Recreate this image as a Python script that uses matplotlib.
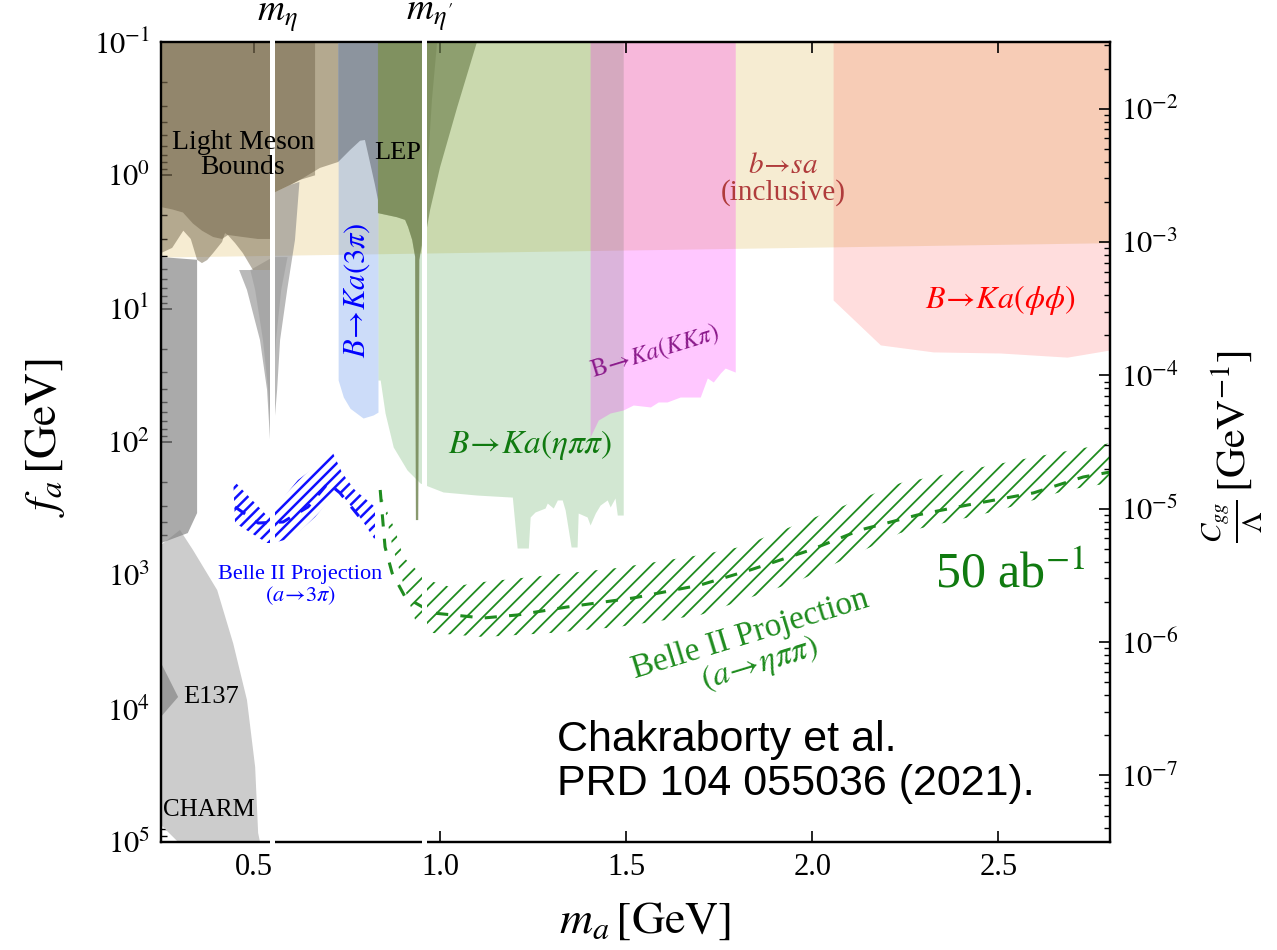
import numpy as np
import matplotlib
matplotlib.use("Agg")
import matplotlib.pyplot as plt

plt.rcParams['font.family'] = ['Liberation Serif', 'DejaVu Serif']
plt.rcParams['mathtext.fontset'] = 'stix'

# ---------------- data (m_a in GeV, f_a in GeV) ----------------
m_eta, m_etap = 0.548, 0.958

bsa_m = [0.25, 2.80]
bsa_fa = [4.1, 3.2]

etapipi_m = [0.833, 0.839, 0.852, 0.874, 0.911, 0.946, 1.008, 1.099, 1.194, 1.207, 1.237,
             1.242, 1.255, 1.282, 1.288, 1.304, 1.315, 1.328, 1.336, 1.352, 1.368, 1.371,
             1.395, 1.403, 1.417, 1.430, 1.449, 1.457, 1.470, 1.476, 1.492]
etapipi_fa = [34.3, 34.3, 60.6, 109, 162, 203, 237, 250, 259, 624, 624,
              365, 335, 313, 287, 313, 272, 272, 324, 613, 613, 341,
              365, 419, 341, 297, 272, 307, 263, 353, 353]

kkpi_m = [1.403, 1.425, 1.457, 1.492, 1.519, 1.565, 1.586, 1.610, 1.645, 1.699, 1.718,
          1.734, 1.753, 1.766, 1.793]
kkpi_fa = [91.7, 68.4, 60.6, 57.5, 52.8, 54.6, 50.1, 50.1, 46.0, 46.0, 33.1,
           35.5, 30.4, 27.9, 29.9]

phiphi_m = [2.056, 2.183, 2.325, 2.505, 2.685, 2.80]
phiphi_fa = [8.61, 18.7, 21.1, 21.5, 23.1, 20.4]

threepi_m = [0.726, 0.740, 0.758, 0.793, 0.820, 0.833]
threepi_fa = [34.3, 46.0, 55.9, 66.1, 62.7, 59.7]

strip_m = [0.25, 0.347, 0.347, 0.322, 0.25]
strip_fa = [4.1, 4.3, 341, 482, 573]

charm_m = [0.25, 0.301, 0.336, 0.401, 0.444, 0.481, 0.503, 0.511, 0.516, 0.296, 0.25]
charm_fa = [592, 457, 646, 1290, 3240, 8610, 27400, 85500, 1e5, 1e5, 74500]

e137_m = [0.25, 0.296, 0.25]
e137_fa = [4540, 8170, 11500]

cone_outer_m = [0.460, 0.481, 0.516, 0.535, 0.543, 0.548, 0.551, 0.562, 0.570, 0.589, 0.610,
                0.622, 0.597, 0.551, 0.551]
cone_outer_fa = [5.13, 7.24, 17.2, 40.7, 96.6, 249, 96.6, 40.7, 17.2, 7.24, 3.05,
                 1.12, 1.18, 1.36, 5.13]
cone_inner_m = [0.490, 0.503, 0.524, 0.538, 0.546, 0.551, 0.559, 0.573, 0.590, 0.551]
cone_inner_fa = [5.13, 7.24, 17.2, 40.7, 96.6, 40.7, 17.2, 7.24, 4.1, 4.1]

lm_outer_m = [0.25, 0.726, 0.726, 0.677, 0.624, 0.597, 0.551, 0.548, 0.497, 0.470, 0.449,
              0.430, 0.422, 0.414, 0.390, 0.374, 0.360, 0.347, 0.330, 0.310, 0.280, 0.25]
lm_outer_fa = [0.1, 0.1, 0.794, 0.88, 1.08, 1.18, 1.36, 5.13, 5.13, 3.83, 3.22,
               2.81, 2.71, 3.16, 3.83, 4.32, 4.55, 4.30, 3.0, 2.6, 3.5, 3.83]
lm_inner_m = [0.25, 0.664, 0.664, 0.624, 0.597, 0.551, 0.545, 0.51, 0.47, 0.43, 0.414,
              0.39, 0.36, 0.336, 0.309, 0.28, 0.25]
lm_inner_fa = [0.1, 0.1, 1.0, 1.08, 1.18, 1.36, 3.0, 3.0, 2.9, 2.8, 3.0,
               2.9, 2.6, 2.3, 1.9, 1.8, 1.73]

wedge_m = [0.726, 0.833, 0.833, 0.825, 0.812, 0.798, 0.785, 0.758, 0.726]
wedge_fa = [0.1, 0.1, 1.53, 1.18, 0.81, 0.543, 0.55, 0.646, 0.794]

lep_outer_m = [0.833, 1.099, 1.046, 1.000, 0.973, 0.965, 0.954, 0.944, 0.941, 0.935, 0.933,
               0.925, 0.914, 0.906, 0.884, 0.833]
lep_outer_fa = [0.1, 0.1, 0.308, 0.866, 1.82, 2.44, 3.05, 4.32, 385, 385, 4.10,
                3.05, 2.44, 2.16, 2.06, 1.92]
lep_inner_m = [0.833, 0.992, 0.978, 0.968, 0.960, 0.944, 0.941, 0.935, 0.933, 0.925, 0.914,
               0.906, 0.884, 0.833]
lep_inner_fa = [0.1, 0.1, 0.272, 0.767, 1.82, 4.32, 385, 385, 4.10, 3.05, 2.44,
                2.16, 2.06, 1.92]

b3pi_upper_m = [0.444, 0.538, 0.551, 0.618, 0.712, 0.737, 0.771, 0.825]
b3pi_upper_fa = [193, 365, 324, 193, 121, 171, 229, 307]
b3pi_lower_m = [0.449, 0.535, 0.551, 0.602, 0.664, 0.726, 0.790, 0.825]
b3pi_lower_fa = [405, 572, 572, 525, 365, 229, 385, 543]
b3pi_center_m = [0.449, 0.511, 0.578, 0.645, 0.699, 0.731, 0.790]
b3pi_center_fa = [307, 405, 398, 307, 203, 241, 385]

beta_upper_m = [0.833, 0.879, 0.901, 0.965, 1.027, 1.116, 1.296, 1.476, 1.699, 1.806,
                2.056, 2.237, 2.417, 2.594, 2.80]
beta_upper_fa = [229, 457, 729, 1084, 1223, 1122, 994, 881, 704, 613,
                 324, 203, 162, 130, 102]
beta_lower_m = [0.844, 0.871, 0.906, 0.933, 0.981, 1.116, 1.296, 1.476, 1.699, 1.968,
                2.237, 2.505, 2.685, 2.80]
beta_lower_fa = [250, 592, 1288, 2163, 2707, 2900, 2707, 2441, 1984, 1084,
                 481, 324, 229, 203]
beta_center_m = [0.839, 0.852, 0.871, 0.906, 0.981, 1.116, 1.207, 1.341, 1.519, 1.699,
                 1.833, 1.995, 2.129, 2.282, 2.417, 2.594, 2.728, 2.80]
beta_center_fa = [229, 613, 960, 1454, 1917, 2089, 1984, 1728, 1479, 1182,
                  912, 646, 457, 353, 297, 241, 183, 168]

x_ticks = [0.5, 1.0, 1.5, 2.0, 2.5]
x_ticklabels = ['0.5', '1.0', '1.5', '2.0', '2.5']
fa_ticks = [1e-1, 1e0, 1e1, 1e2, 1e3, 1e4, 1e5]
fa_ticklabels = [r'$10^{-1}$', r'$10^{0}$', r'$10^{1}$', r'$10^{2}$', r'$10^{3}$',
                 r'$10^{4}$', r'$10^{5}$']
cgg_ticks = [1e-7, 1e-6, 1e-5, 1e-4, 1e-3, 1e-2]
cgg_ticklabels = [r'$10^{-7}$', r'$10^{-6}$', r'$10^{-5}$', r'$10^{-4}$', r'$10^{-3}$',
                  r'$10^{-2}$']

# C_gg / Lambda = 1 / (32 pi^2 f_a)
cgg_factor = 1.0 / (32 * np.pi ** 2)

# ---------------- figure ----------------
W, H = 1277, 950
fig = plt.figure(figsize=(W / 100, H / 100), dpi=100)
ax = fig.add_axes([161 / W, 1 - 842 / H, (1110 - 161) / W, 800 / H])
ax.set_xlim(0.25, 2.8)
ax.set_yscale('log')
ax.set_ylim(1e5, 1e-1)

top = 0.1
# inclusive b -> s a
ax.fill_between(bsa_m, bsa_fa, top, color='#f6ecd2', lw=0, zorder=1)
# exclusive B -> K a channels
ax.fill_between(etapipi_m, etapipi_fa, top, color='#329632', alpha=0.22, lw=0, zorder=1.2)
ax.fill_between(kkpi_m, kkpi_fa, top, color='#ff00ff', alpha=0.22, lw=0, zorder=1.3)
ax.fill_between(phiphi_m, phiphi_fa, top, color='#ff1010', alpha=0.14, lw=0, zorder=1.4)
ax.fill_between(threepi_m, threepi_fa, top, color='#6495ed', alpha=0.33, lw=0, zorder=1.5)

# beam dumps and other low-mass limits
ax.fill(charm_m, charm_fa, color='#cccccc', lw=0, zorder=2.0)
ax.fill(strip_m, strip_fa, color='#808080', alpha=0.67, lw=0, zorder=2.1)
ax.fill(e137_m, e137_fa, color='#9a9a9a', lw=0, zorder=2.2)
ax.fill(cone_outer_m, cone_outer_fa, color='#808080', alpha=0.55, lw=0, zorder=2.3)
ax.fill(cone_inner_m, cone_inner_fa, color='#808080', alpha=0.3, lw=0, zorder=2.4)

# light meson bounds
ax.fill(lm_outer_m, lm_outer_fa, color='#6d6046', alpha=0.48, lw=0, zorder=2.5)
ax.fill(lm_inner_m, lm_inner_fa, color='#6d6046', alpha=0.48, lw=0, zorder=2.6)
ax.fill(wedge_m, wedge_fa, color='#8c949e', lw=0, zorder=2.7)

# LEP
ax.fill(lep_outer_m, lep_outer_fa, color='#6f824f', alpha=0.66, lw=0, zorder=2.8)
ax.fill(lep_inner_m, lep_inner_fa, color='#6f824f', alpha=0.45, lw=0, zorder=2.9)

# Belle II projections
plt.rcParams['hatch.linewidth'] = 1.8
ax.fill(np.r_[b3pi_upper_m, b3pi_lower_m[::-1]], np.r_[b3pi_upper_fa, b3pi_lower_fa[::-1]],
        facecolor='none', edgecolor='#1010ff', hatch='///', lw=0, zorder=3.0)
ax.plot(b3pi_center_m, b3pi_center_fa, color='#1010ff', lw=2.2, dashes=(4, 4), zorder=3.1)
plt.rcParams['hatch.linewidth'] = 1.3
ax.fill(np.r_[beta_upper_m, beta_lower_m[::-1]], np.r_[beta_upper_fa, beta_lower_fa[::-1]],
        facecolor='none', edgecolor='#1f8c1f', hatch='//', lw=0, zorder=3.0)
ax.plot(beta_center_m, beta_center_fa, color='#1f8c1f', lw=2.2, dashes=(4, 4), zorder=3.1)

# ---------------- axes styling ----------------
ax.set_xticks(x_ticks)
ax.set_xticklabels(x_ticklabels, fontsize=22)
ax.set_yticks(fa_ticks)
ax.set_yticklabels(fa_ticklabels, fontsize=22)
ax.tick_params(which='both', direction='in', top=True, right=False)
ax.tick_params(which='major', length=8, width=1.2, pad=8)
ax.tick_params(which='minor', length=4.5, width=1.0)
ax.minorticks_on()
ax.xaxis.set_minor_locator(matplotlib.ticker.NullLocator())
ax.yaxis.set_minor_locator(matplotlib.ticker.LogLocator(base=10, subs=np.arange(2, 10)))
ax.yaxis.set_minor_formatter(matplotlib.ticker.NullFormatter())

ax2 = ax.twinx()
ax2.set_yscale('log')
ax2.set_ylim(cgg_factor / 1e5, cgg_factor / 1e-1)
ax2.set_yticks(cgg_ticks)
ax2.set_yticklabels(cgg_ticklabels, fontsize=22)
ax2.yaxis.set_minor_locator(matplotlib.ticker.LogLocator(base=10, subs=np.arange(2, 10)))
ax2.yaxis.set_minor_formatter(matplotlib.ticker.NullFormatter())
ax2.tick_params(which='both', direction='in')
ax2.tick_params(which='major', length=8, width=1.2, pad=8)
ax2.tick_params(which='minor', length=4.5, width=1.0)
for a in (ax, ax2):
    for s in a.spines.values():
        s.set_linewidth(1.6)

# meson mass lines
for mm, lab in ((m_eta, r'$m_\eta$'), (m_etap, r"$m_{\eta'}$")):
    ax2.axvline(mm, color='white', lw=3.6, zorder=10, clip_on=False)
    ax2.text(mm + 0.014, 1.010, lab, transform=ax2.get_xaxis_transform(), fontsize=27,
             ha='center', va='bottom')


# ---------------- labels inside the plot (drawn above the mass lines) ----------------
def label(x, y, s, **kw):
    kw.setdefault('transform', ax.transData)
    return ax2.text(x, y, s, zorder=12, **kw)


label(0.470, 0.70, 'Light Meson\nBounds', fontsize=20, ha='center', va='center',
      linespacing=1.0)
label(0.887, 0.68, 'LEP', fontsize=19, ha='center', va='center')
label(0.777, 7.2, r'$B\!\rightarrow\! Ka(3\pi)$', fontsize=22, color='blue', rotation=90,
      ha='center', va='center')
label(1.242, 105, r'$B\!\rightarrow\! Ka(\eta\pi\pi)$', fontsize=24, color='#107a10',
      ha='center', va='center')
label(1.578, 21.1, r'$\mathrm{B}\!\rightarrow\! Ka(KK\pi)$', fontsize=18, color='#8b1a8b',
      rotation=17, ha='center', va='center')
label(1.922, 1.08, '$b\\!\\rightarrow\\! sa$\n(inclusive)', fontsize=21, color='#b03c3c',
      ha='center', va='center', linespacing=1.0)
label(2.505, 8.6, r'$B\!\rightarrow\! Ka(\phi\phi)$', fontsize=23, color='red',
      ha='center', va='center')
label(0.624, 1200, 'Belle II Projection\n' + r'$(a\!\rightarrow\! 3\pi)$', fontsize=16,
      color='blue', ha='center', va='center', linespacing=1.0)
label(1.847, 3630, 'Belle II Projection\n' + r'$(a\!\rightarrow\! \eta\pi\pi)$', fontsize=24,
      color='#1f8c1f', rotation=17, ha='center', va='center', linespacing=0.95,
      rotation_mode='anchor')
label(2.532, 994, r'50 ab$^{-1}$', fontsize=36, color='#107a10', ha='center', va='center')
label(0.309, 8170, 'E137', fontsize=19, ha='left', va='center')
label(0.255, 57500, 'CHARM', fontsize=18, ha='left', va='center')
label(0.417, 0.10, 'Chakraborty et al.\nPRD 104 055036 (2021).', transform=ax.transAxes,
      fontsize=31, family=['Liberation Sans', 'DejaVu Sans'], ha='left', va='center',
      linespacing=1.1)

fig.text(645 / W, 1 - 922 / H, r'$m_a\,[\mathrm{GeV}]$', fontsize=33, ha='center', va='center')
fig.text(45 / W, 1 - 438 / H, r'$f_a\,[\mathrm{GeV}]$', fontsize=33, ha='center', va='center',
         rotation=90)
fig.text(1232 / W, 1 - 446 / H, r'$\frac{C_{gg}}{\Lambda}\,[\mathrm{GeV}^{-1}]$', fontsize=30,
         ha='center', va='center', rotation=90)

fig.savefig('out.png', dpi=100)
